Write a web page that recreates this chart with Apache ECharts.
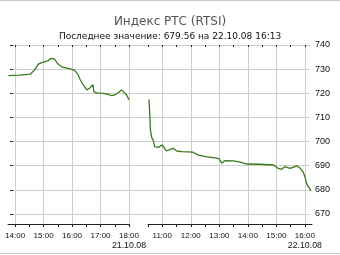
<!DOCTYPE html>
<html><head><meta charset="utf-8">
<script src="https://cdn.jsdelivr.net/npm/echarts@6/dist/echarts.min.js"></script>
<style>html,body{margin:0;padding:0;background:#fff}#c{width:340px;height:255px}</style>
</head><body><div id="c"></div>
<script>
const titleText = 'Индекс РТС (RTSI)';
const subtitleText = 'Последнее значение: 679.56 на 22.10.08 16:13';
const sessionDates = ['21.10.08', '22.10.08'];
const leftHourTicks = [14, 15, 16, 17, 18];
const rightHourTicks = [11, 12, 13, 14, 15, 16];
const leftHalfTicks = [14, 14.5, 15, 15.5, 16, 16.5, 17, 17.5, 18];
const rightHalfTicks = [10.5, 11, 11.5, 12, 12.5, 13, 13.5, 14, 14.5, 15, 15.5, 16];
const yTicks = [670, 680, 690, 700, 710, 720, 730, 740];

const leftTimes = ['13:46','14:10','14:32','14:35','14:42','14:49','14:56','15:03','15:10','15:15','15:19','15:23','15:28','15:33','15:40','15:52','15:59','16:06','16:13','16:17','16:24','16:31','16:37','16:44','16:46','16:52','17:06','17:16','17:23','17:30','17:37','17:44','17:48','17:55','18:00'];
const leftValues = [727.3,727.5,727.9,728.7,729.9,732.1,732.7,733.1,733.5,734.5,734.7,734.2,732.7,731.7,730.8,730.3,729.9,729.4,727.6,725.7,723.4,721.4,722.1,723.6,720.7,720.2,720.0,719.6,719.0,719.3,720.2,721.4,720.9,719.3,717.3];

const rightTimes = ['10:32','10:34','10:35','10:38','10:41','10:44','10:52','10:59','11:04','11:08','11:17','11:23','11:30','11:41','12:05','12:16','12:34','12:55','13:00','13:05','13:12','13:30','13:44','13:58','14:26','14:54','15:04','15:11','15:18','15:29','15:39','15:44','15:50','15:56','16:00','16:04','16:07','16:13'];
const rightValues = [717.5,710.3,704.8,701.5,700.6,697.9,697.6,698.6,697.6,696.1,696.8,697.2,696.1,695.8,695.6,694.4,693.7,693.1,692.8,691.0,692.1,692.0,691.5,690.7,690.6,690.3,688.9,688.5,689.6,688.9,689.6,689.9,688.9,687.5,685.5,682.5,682.0,679.56];

function toHours(t) { const p = t.split(':'); return +p[0] + (+p[1]) / 60; }
function pairs(times, vals) { return times.map((t, i) => [toHours(t), vals[i]]); }

const FONT = 'Liberation Sans';
const gridColor = '#cdcdcd';
const axisColor = '#222';
const yMinData = 740 - 179 * 70 / 169;

function hourLabel(hours, date) {
  const last = hours[hours.length - 1];
  return function (v) {
    const h = Math.round(v);
    const s = (h < 10 ? '0' : '') + h + ':00';
    return h === last ? s + '\n{d|' + date + '}' : s;
  };
}

function sessionAxes(gridIndex, min, max, hours, halves, date) {
  return [
    { type: 'value', gridIndex, min, max,
      axisLine: { show: true, lineStyle: { color: axisColor, width: 1 } },
      axisTick: { show: true, customValues: halves, length: 3, lineStyle: { color: axisColor } },
      axisLabel: { show: true, customValues: hours, formatter: hourLabel(hours, date), margin: 7,
        fontFamily: FONT, fontSize: 8, color: '#111', lineHeight: 10,
        rich: { d: { fontFamily: FONT, fontSize: 8.8, color: '#111', lineHeight: 10 } } },
      splitLine: { show: false } },
    { type: 'value', gridIndex, min, max,
      axisLine: { show: false },
      axisTick: { show: true, inside: true, customValues: halves, length: 2, lineStyle: { color: axisColor } },
      axisLabel: { show: false }, splitLine: { show: false } },
    { type: 'value', gridIndex, min, max,
      axisLine: { show: false },
      axisTick: { show: false, customValues: hours },
      axisLabel: { show: false },
      splitLine: { show: true, lineStyle: { color: gridColor, width: 1 } } }
  ];
}

const chart = echarts.init(document.getElementById('c'), null, { renderer: 'canvas' });
chart.setOption({
  animation: false,
  backgroundColor: '#fff',
  title: {
    text: titleText, subtext: subtitleText, left: 'center', top: 11, itemGap: 4,
    textStyle: { fontFamily: 'DejaVu Sans', fontSize: 12, fontWeight: 'normal', color: '#555' },
    subtextStyle: { fontFamily: 'DejaVu Sans', fontSize: 9, color: '#111' }
  },
  graphic: [
    { type: 'line', shape: { x1: 0, y1: 0.5, x2: 340, y2: 0.5 }, style: { stroke: '#c8c8c8' } },
    { type: 'line', shape: { x1: 0, y1: 253.5, x2: 340, y2: 253.5 }, style: { stroke: '#c8c8c8' } }
  ],
  grid: [
    { left: 10, top: 45, width: 300, height: 169 },
    { left: 8, top: 45, width: 121, height: 179 },
    { left: 148, top: 45, width: 164, height: 179 }
  ],
  xAxis: [
    { type: 'value', gridIndex: 0, show: false, min: 0, max: 1 }
  ].concat(sessionAxes(1, 13.75, 18, leftHourTicks, leftHalfTicks, sessionDates[0]))
   .concat(sessionAxes(2, 10.5, 16.25, rightHourTicks, rightHalfTicks, sessionDates[1])),
  yAxis: [
    { type: 'value', gridIndex: 0, position: 'right', min: 670, max: 740, interval: 10,
      axisLine: { show: false },
      axisTick: { show: true, length: 3, lineStyle: { color: axisColor } },
      axisLabel: { margin: 5, fontFamily: FONT, fontSize: 9, color: '#111' },
      splitLine: { show: true, lineStyle: { color: gridColor, width: 1 } } },
    { type: 'value', gridIndex: 1, min: yMinData, max: 740, show: false, splitLine: { show: false } },
    { type: 'value', gridIndex: 2, min: yMinData, max: 740, show: false, splitLine: { show: false } }
  ],
  series: [
    { type: 'line', xAxisIndex: 1, yAxisIndex: 1, data: pairs(leftTimes, leftValues),
      showSymbol: false, lineStyle: { color: '#3a7a1e', width: 1.3 }, z: 5 },
    { type: 'line', xAxisIndex: 4, yAxisIndex: 2, data: pairs(rightTimes, rightValues),
      showSymbol: false, lineStyle: { color: '#3a7a1e', width: 1.3 }, z: 5 }
  ]
});
</script></body></html>
